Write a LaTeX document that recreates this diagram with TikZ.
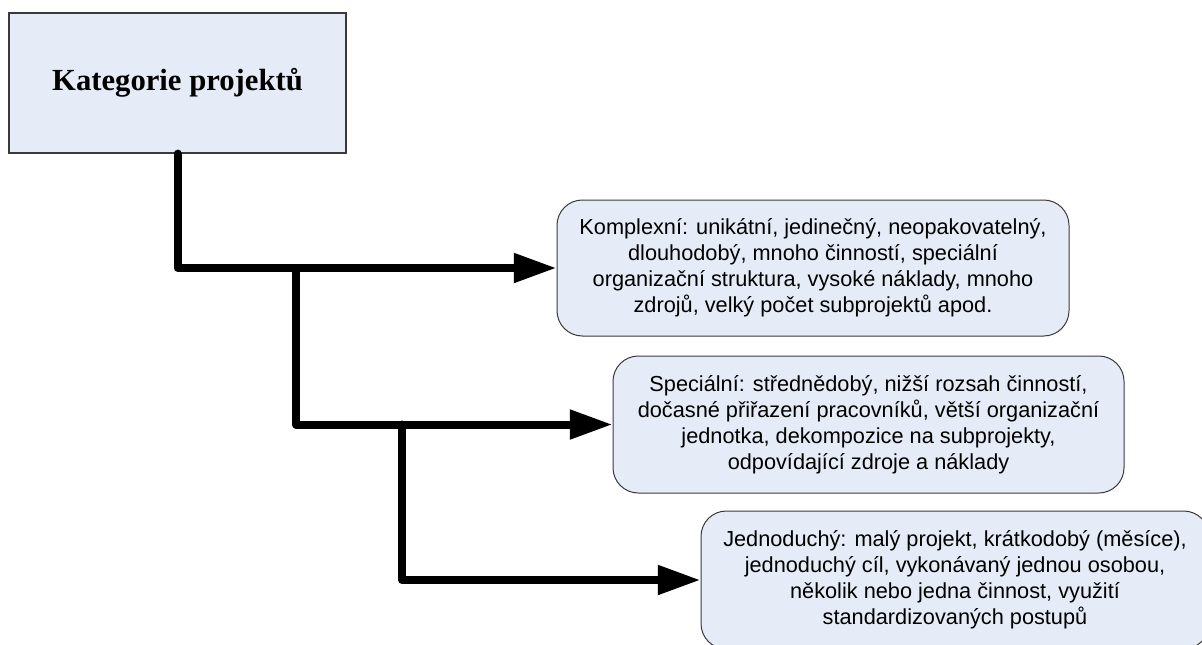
\documentclass[tikz,border=0pt]{standalone}
\usepackage{fontspec}
\setmainfont{Liberation Sans}
\newfontfamily\titlefont{Liberation Serif}
\usetikzlibrary{arrows.meta}
\definecolor{boxfill}{HTML}{E6ECF7}
\definecolor{boxline}{HTML}{3A3A3A}
\tikzset{
  titlebox/.style={draw=boxline, line width=0.9pt, fill=boxfill, minimum width=337*0.75pt, minimum height=140*0.75pt, inner sep=0pt, font=\titlefont\fontsize{23}{27}\selectfont\bfseries},
  catbox/.style={draw=boxline, line width=0.75pt, fill=boxfill, rounded corners=19pt, inner sep=0pt, align=center, font=\fontsize{16.3}{19.4}\selectfont},
  conn/.style={line width=6pt, line join=round, line cap=round, -{Triangle[length=32pt,width=21pt]}},
}
\begin{document}
\begin{tikzpicture}[x=0.75pt,y=-0.75pt]
\clip (0,0) rectangle (1202,644);
\fill[white] (0,0) rectangle (1202,644);
\node[titlebox] (top) at (177.5,83) {Kategorie projektů};
\node[catbox, minimum width=512*0.75pt, minimum height=136*0.75pt] (b1) at (813,268)
  {Komplexní: unikátní, jedinečný, neopakovatelný,\\dlouhodobý, mnoho činností, speciální\\organizační struktura, vysoké náklady, mnoho\\zdrojů, velký počet subprojektů apod.};
\node[catbox, minimum width=511*0.75pt, minimum height=137*0.75pt] (b2) at (868.5,424.5)
  {Speciální: střednědobý, nižší rozsah činností,\\dočasné přiřazení pracovníků, větší organizační\\jednotka, dekompozice na subprojekty,\\odpovídající zdroje a náklady};
\node[catbox, minimum width=508*0.75pt, minimum height=138*0.75pt] (b3) at (955,580)
  {Jednoduchý: malý projekt, krátkodobý (měsíce),\\jednoduchý cíl, vykonávaný jednou osobou,\\několik nebo jedna činnost, využití\\standardizovaných postupů};
\coordinate (j1) at (296,268);
\coordinate (j2) at (402,424.5);
\draw[conn] (top.south) |- (b1.west);
\draw[conn] (j1) |- (b2.west);
\draw[conn] (j2) |- (b3.west);
\end{tikzpicture}
\end{document}
